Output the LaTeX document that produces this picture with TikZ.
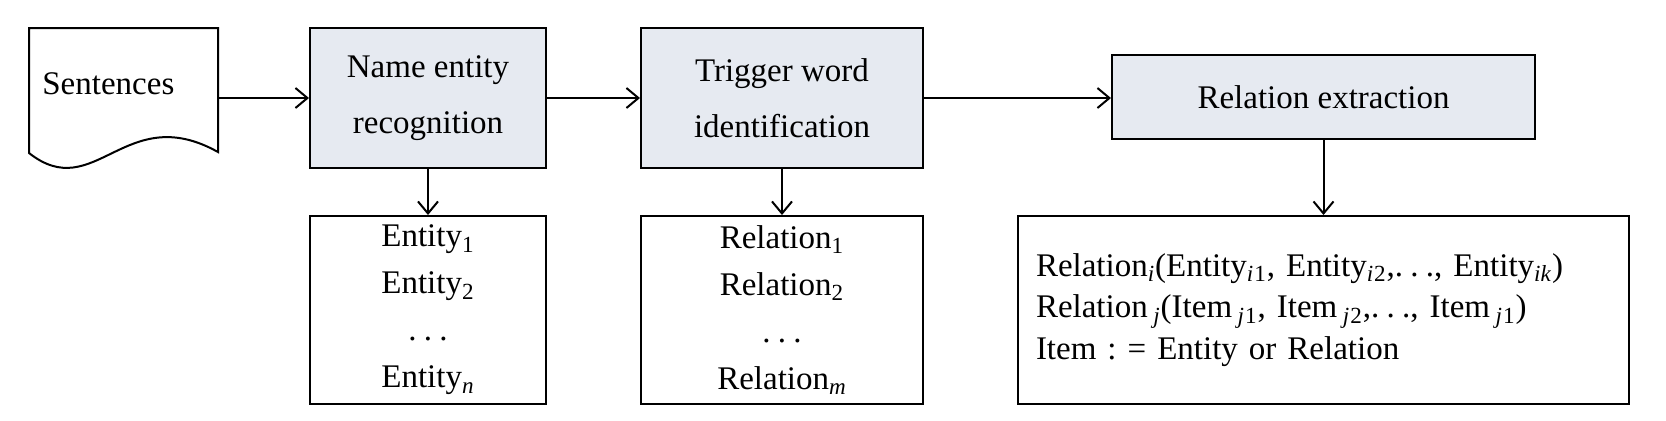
\documentclass[tikz,border=0pt]{standalone}
\usepackage{fontspec}
\setmainfont{Liberation Serif}
\usetikzlibrary{arrows,arrows.meta,positioning}
\definecolor{stagefill}{RGB}{230,234,241}
\newcommand{\sub}[1]{\textsubscript{#1}}
\newcommand{\isub}[1]{\textsubscript{\textit{#1}}}
\newcommand{\sdots}{.\kern0.22em.\kern0.22em.}
\tikzset{
    stage/.style={draw,line width=1pt,fill=stagefill,align=center,inner sep=0pt,
        font=\fontsize{16.5}{28}\selectfont},
    outbox/.style={draw,line width=1pt,fill=white,align=center,inner sep=0pt,
        minimum height=94pt,font=\fontsize{16.5}{23.5}\selectfont},
    link/.style={draw,line width=1pt,-{Straight Barb[length=6pt,width=10pt]}}
}
\begin{document}
\frenchspacing
\begin{tikzpicture}[x=0.5pt,y=-0.5pt]
    \useasboundingbox (0,0) rectangle (1666,420);
    \draw[line width=1pt,fill=white] (29,153) -- (29,28) -- (218,28) -- (218,152)
        .. controls (125,100) and (95,205) .. (29,153) -- cycle;
    \node[anchor=base west,inner sep=0pt,font=\fontsize{16.5}{20}\selectfont] (sentences) at (42,94) {Sentences};
    \coordinate (sentout) at (218,98);
    \node[stage,minimum width=118pt,minimum height=70pt] (ner) at (428,98) {Name entity\\recognition};
    \node[stage,minimum width=141pt,minimum height=70pt] (trig) at (782,98) {Trigger word\\identification};
    \node[stage,minimum width=211.5pt,minimum height=42pt] (relx) at (1323.5,97) {Relation extraction};
    \node[outbox,minimum width=118pt] (ents) at (428,310)
        {Entity\sub{1}\\Entity\sub{2}\\\sdots\\Entity\isub{n}};
    \node[outbox,minimum width=141pt] (rels) at (782,310)
        {Relation\sub{1}\\Relation\sub{2}\\\sdots\\Relation\isub{m}};
    \node[outbox,minimum width=305.5pt,text width=287.5pt,align=left,
        font=\fontsize{16.5}{20.75}\selectfont] (items) at (1323.5,310)
        {Relation\isub{i}(Entity\isub{i}\sub{1}, Entity\isub{i}\sub{2},\sdots, Entity\isub{ik})\\
         Relation\,\isub{j}(Item\,\isub{j}\sub{1}, Item\,\isub{j}\sub{2},\sdots, Item\,\isub{j}\sub{1})\\
         Item : = Entity or Relation};
    \draw[link] (sentout) -- (ner);
    \draw[link] (ner) -- (trig);
    \draw[link] (trig.east) -- (trig.east -| relx.west);
    \draw[link] (ner) -- (ents);
    \draw[link] (trig) -- (rels);
    \draw[link] (relx) -- (items);
\end{tikzpicture}
\end{document}
